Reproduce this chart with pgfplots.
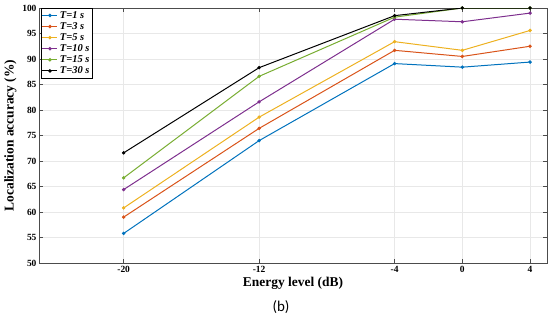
\documentclass[border=0pt]{standalone}
\usepackage{fontspec}
\setmainfont{Liberation Serif}
\newfontfamily\capfont{Carlito}
\usepackage{pgfplots}
\pgfplotsset{compat=1.18}
\definecolor{c1}{rgb}{0,0.447,0.741}
\definecolor{c2}{rgb}{0.85,0.325,0.098}
\definecolor{c3}{rgb}{0.929,0.694,0.125}
\definecolor{c4}{rgb}{0.494,0.184,0.556}
\definecolor{c5}{rgb}{0.466,0.674,0.188}
\definecolor{c6}{rgb}{0,0,0}
\begin{document}
\begin{tikzpicture}
\useasboundingbox (-39bp,-58bp) rectangle (511bp,263bp);
\begin{axis}[
  scale only axis, width=508bp, height=255bp,
  xmin=-25, xmax=5, ymin=50, ymax=100,
  xtick={-20,-12,-4,0,4}, ytick={50,55,...,100},
  grid=major, major grid style={gray!18, line width=0.5pt},
  axis line style={black!70, line width=0.5pt},
  tick style={black!70, line width=0.5pt},
  tick align=inside, major tick length=4bp,
  /pgf/number format/assume math mode=true,
  ticklabel style={font=\bfseries\fontsize{9.5}{11}\selectfont},
  yticklabel style={xshift=1bp},
  xlabel={Energy level (dB)}, ylabel={Localization accuracy (\%)},
  label style={font=\bfseries\fontsize{13.5}{15}\selectfont},
  xlabel style={yshift=3bp},
  ylabel style={yshift=-1bp},
  legend style={at={(axis cs:-24.9,100)}, anchor=north west, draw=black, line width=0.5pt,
    inner sep=1pt, row sep=-1.3pt, font=\bfseries\itshape\fontsize{10.5}{11.5}\selectfont},
  legend cell align=left,
  legend image code/.code={\draw[mark repeat=2,mark phase=2] plot coordinates {(0bp,0bp) (7.5bp,0bp) (15bp,0bp)};},
  every axis plot/.append style={line width=1pt, mark=*, mark size=1.2pt},
]
\addplot[c1] coordinates {(-20,55.8) (-12,74.0) (-4,89.1) (0,88.4) (4,89.4)};
\addlegendentry{T=1 s}
\addplot[c2] coordinates {(-20,59.0) (-12,76.4) (-4,91.7) (0,90.5) (4,92.5)};
\addlegendentry{T=3 s}
\addplot[c3] coordinates {(-20,60.8) (-12,78.6) (-4,93.4) (0,91.7) (4,95.6)};
\addlegendentry{T=5 s}
\addplot[c4] coordinates {(-20,64.4) (-12,81.6) (-4,97.8) (0,97.3) (4,99.0)};
\addlegendentry{T=10 s}
\addplot[c5] coordinates {(-20,66.7) (-12,86.6) (-4,98.2) (0,100) (4,100)};
\addlegendentry{T=15 s}
\addplot[c6] coordinates {(-20,71.6) (-12,88.3) (-4,98.5) (0,100) (4,100)};
\addlegendentry{T=30 s}
\end{axis}
\node[font=\capfont\fontsize{15}{17}\selectfont] at (242bp,-44bp) {(b)};
\end{tikzpicture}
\end{document}
